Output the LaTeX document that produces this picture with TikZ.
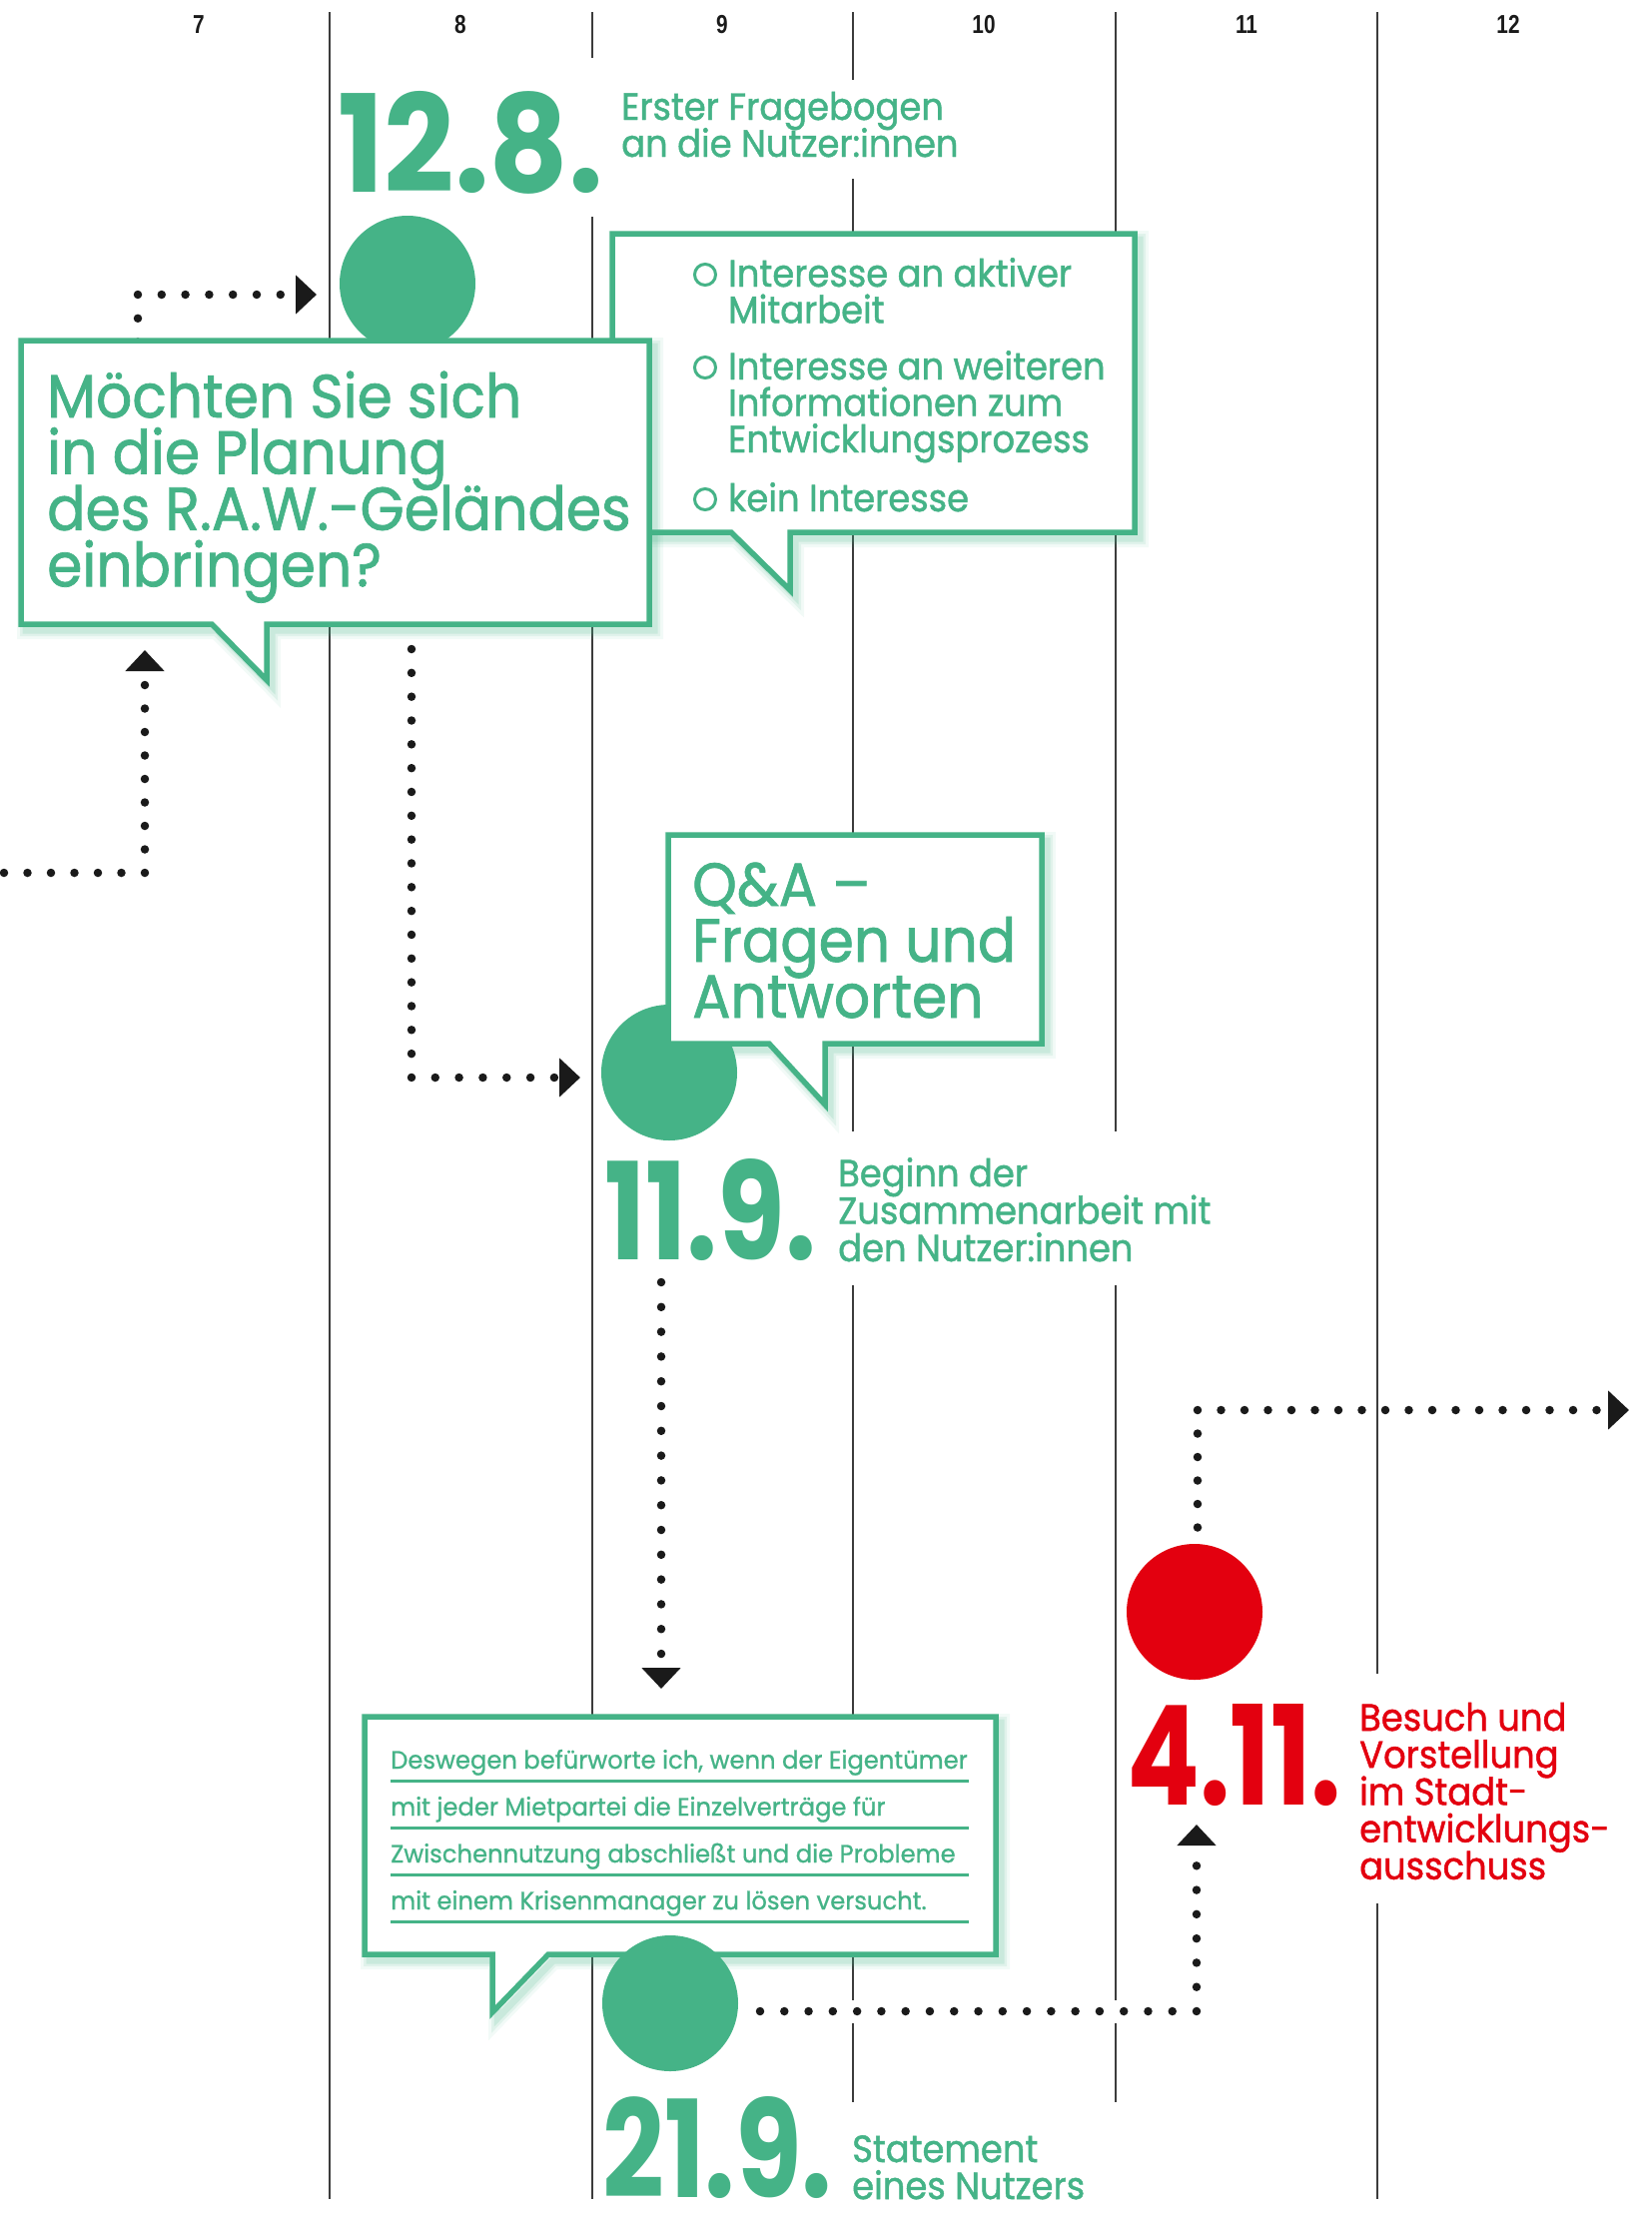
\documentclass[tikz,border=0pt]{standalone}
\usepackage{graphicx}
\usepackage{fontspec}
\setmainfont{Poppins}[FakeStretch=0.93, FakeBold=1.2]
\newfontfamily\smallfont{Poppins}[FakeStretch=0.97, FakeBold=0.9]
\newfontfamily\numfont{Poppins}
\newfontfamily\labfont{Liberation Sans}
\usetikzlibrary{arrows.meta}
\definecolor{grn}{HTML}{45B387}
\definecolor{rd}{HTML}{E3000F}
\definecolor{ink}{HTML}{1A1A1A}
\newcommand\txtlines[2]{\vtop{\baselineskip=#1\lineskiplimit=-1000pt\lineskip=0pt\relax\halign{##\hfil\cr#2\crcr}}}
\newcommand\bignum[2]{\resizebox{#1}{101pt}{\numfont\bfseries #2}}
\tikzset{
  gridline/.style={draw=ink!85, line width=1.8pt},
  dotline/.style={draw=ink, line width=8.5pt, line cap=round, dash pattern=on 0pt off #1},
  dotline/.default=24pt,
  arrowtip/.style={-{Triangle[length=21pt,width=38pt]}},
  bubble/.style={draw=grn, fill=white, line width=5.5pt, line join=miter},
  glow/.style={draw=grn, line join=miter},
  event/.style={circle, fill=#1, minimum size=136pt, inner sep=0pt},
  datenum/.style={text=#1, inner sep=0pt, anchor=south west},
  caption/.style={text=#1, inner sep=0pt, anchor=base west, font=\fontsize{38pt}{37pt}\selectfont},
  bigtext/.style={text=grn, inner sep=0pt, anchor=base west, font=\fontsize{61pt}{56.5pt}\selectfont},
  smalltext/.style={text=grn, inner sep=0pt, anchor=base west, font=\smallfont\fontsize{25pt}{47pt}\selectfont},
  colhead/.style={text=ink, inner sep=0pt, anchor=base, font=\labfont\bfseries\fontsize{26pt}{26pt}\selectfont},
  ring/.style={draw=grn, line width=3pt, circle, minimum size=21pt, inner sep=0pt},
  ruleline/.style={draw=grn, line width=3pt},
  pathA/.style={insert path={(21,341) -- (650,341) -- (650,625) -- (267,625) -- (267,681) -- (212,625) -- (21,625) -- cycle}},
  pathB/.style={insert path={(613,234) -- (1136,234) -- (1136,533) -- (791,533) -- (791,591) -- (732,533) -- (613,533) -- cycle}},
  pathC/.style={insert path={(669,836) -- (1043,836) -- (1043,1045) -- (826,1045) -- (826,1106) -- (770,1045) -- (669,1045) -- cycle}},
  pathD/.style={insert path={(365,1719) -- (997,1719) -- (997,1957) -- (549,1957) -- (493,2015) -- (493,1957) -- (365,1957) -- cycle}},
}
\newcommand\shadowof[1]{%
  \begin{scope}[shift={(5,6)}]
    \draw[glow, line width=18pt, opacity=0.07, #1];
    \draw[glow, line width=12pt, opacity=0.10, #1];
    \draw[glow, line width=7pt, opacity=0.15, #1];
  \end{scope}}
\begin{document}
\begin{tikzpicture}[x=1pt,y=-1pt]
\useasboundingbox (0,0) rectangle (1654,2217);

% month grid
\draw[gridline] (330,12) -- (330,2202);
\draw[gridline] (593,12) -- (593,58) (593,217) -- (593,2202);
\draw[gridline] (854,12) -- (854,80) (854,179) -- (854,1133) (854,1287) -- (854,2003) (854,2026) -- (854,2105);
\draw[gridline] (1117,12) -- (1117,1133) (1117,1287) -- (1117,2003) (1117,2026) -- (1117,2105);
\draw[gridline] (1379,12) -- (1379,1676) (1379,1906) -- (1379,2202);

% month numbers
\node[colhead] (h7)  at (199,33)  {\scalebox{0.8}[1]{7}};
\node[colhead] (h8)  at (461,33)  {\scalebox{0.8}[1]{8}};
\node[colhead] (h9)  at (723,33)  {\scalebox{0.8}[1]{9}};
\node[colhead] (h10) at (985,33)  {\scalebox{0.8}[1]{10}};
\node[colhead] (h11) at (1248,33) {\scalebox{0.8}[1]{11}};
\node[colhead] (h12) at (1510,33) {\scalebox{0.8}[1]{12}};

% connector end points
\coordinate (k1s) at (138,366.4); \coordinate (k1c) at (138,295);  \coordinate (k1e) at (317,295);
\coordinate (k2s) at (4,874);     \coordinate (k2c) at (145,874);  \coordinate (k2e) at (145,651);
\coordinate (k3s) at (412,650);   \coordinate (k3c) at (412,1079); \coordinate (k3e) at (581,1079);
\coordinate (k4s) at (662,1284);  \coordinate (k4e) at (662,1691);
\coordinate (k5s) at (761,2014);  \coordinate (k5c) at (1198,2014); \coordinate (k5e) at (1198,1827);
\coordinate (k6s) at (1199,1529.5); \coordinate (k6c) at (1199,1412); \coordinate (k6e) at (1631,1412);

% dotted connectors
\draw[dotline=23.8pt, arrowtip] (k1s) -- (k1c) -- (k1e);
\draw[dotline=23.5pt, arrowtip] (k2s) -- (k2c) -- (k2e);
\draw[dotline=23.83pt, arrowtip] (k3s) -- (k3c) -- (k3e);
\draw[dotline=24.8pt, arrowtip] (k4s) -- (k4e);
\draw[dotline=24.28pt, arrowtip] (k5s) -- (k5c) -- (k5e);
\draw[dotline=23.5pt, arrowtip] (k6s) -- (k6c) -- (k6e);

% first event dot
\node[event=grn] (c128) at (408,284) {};

% answer box
\shadowof{pathB}
\draw[bubble, pathB];
% question bubble
\shadowof{pathA}
\draw[bubble, pathA];

% Q&A
\node[event=grn] (c119) at (670,1074) {};
\shadowof{pathC}
\draw[bubble, pathC];

% statement bubble
\shadowof{pathD}
\draw[bubble, pathD];
\draw[ruleline] (391,1783) -- (970,1783);
\draw[ruleline] (391,1830) -- (970,1830);
\draw[ruleline] (391,1877) -- (970,1877);
\draw[ruleline] (391,1924) -- (970,1924);

\node[event=grn] (c219) at (671,2006) {};
\node[event=rd]  (c411) at (1196,1614) {};

% dates
\node[datenum=grn] (d128) at (338,195)  {\bignum{266pt}{12.8.}};
\node[datenum=grn] (d119) at (605,1263) {\bignum{212pt}{11.9.}};
\node[datenum=grn] (d219) at (603,2202) {\bignum{230pt}{21.9.}};
\node[datenum=rd]  (d411) at (1128,1809) {\bignum{215pt}{4.11.}};

% captions
\node[caption=grn] (t128) at (622,120)  {\txtlines{37pt}{Erster Fragebogen\cr an die Nutzer:innen}};
\node[caption=grn] (t119) at (839,1188) {\txtlines{37.5pt}{Beginn der\cr Zusammenarbeit mit\cr den Nutzer:innen}};
\node[caption=rd]  (t411) at (1361,1733) {\txtlines{37.2pt}{Besuch und\cr Vorstellung\cr im Stadt-\cr entwicklungs-\cr ausschuss}};
\node[caption=grn] (t219) at (853,2165) {\txtlines{37pt}{Statement\cr eines Nutzers}};

% question text
\node[bigtext] (q1) at (47,418) {\txtlines{56.4pt}{Möchten Sie sich\cr in die Planung\cr des R.A.W.-Geländes\cr einbringen?}};

% options
\node[ring] (o1) at (706,275) {};
\node[ring] (o2) at (706,368) {};
\node[ring] (o3) at (706,500) {};
\node[caption=grn] (a1) at (729,287) {\txtlines{36.5pt}{Interesse an aktiver\cr Mitarbeit}};
\node[caption=grn] (a2) at (729,380) {\txtlines{36.5pt}{Interesse an weiteren\cr Informationen zum\cr Entwicklungsprozess}};
\node[caption=grn] (a3) at (729,512) {kein Interesse};

% Q&A text
\node[bigtext] (qa) at (693,907) {\txtlines{56pt}{Q\&A –\cr Fragen und\cr Antworten}};

% statement text
\node[smalltext] (st) at (391,1771) {\txtlines{47pt}{Deswegen befürworte ich, wenn der Eigentümer\cr mit jeder Mietpartei die Einzelverträge für\cr Zwischennutzung abschließt und die Probleme\cr mit einem Krisenmanager zu lösen versucht.}};
\end{tikzpicture}
\end{document}
